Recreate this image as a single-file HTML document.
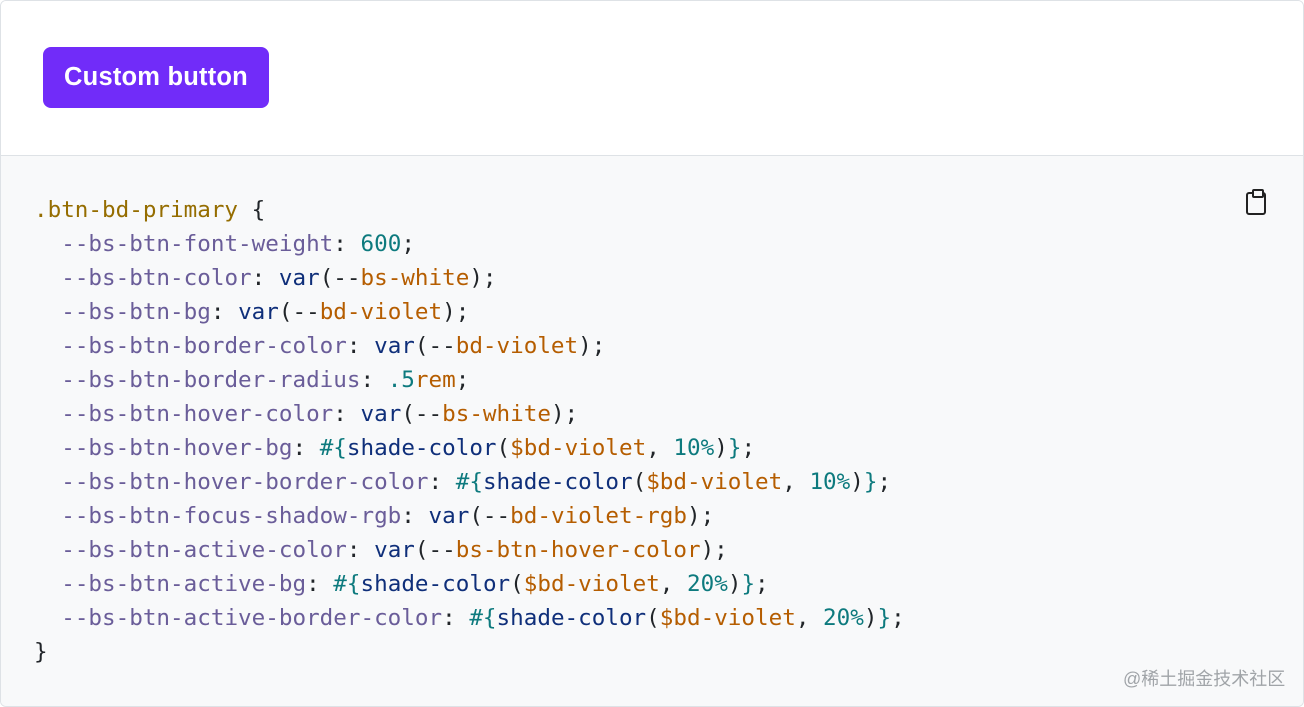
<!DOCTYPE html>
<html><head><meta charset="utf-8"><style>
html,body{margin:0;padding:0;background:#fff;}
body{width:1304px;height:707px;position:relative;overflow:hidden;font-family:"Liberation Sans",sans-serif;}
.frame{position:absolute;left:0;top:0;width:1302px;height:705px;border:1px solid #dee2e6;border-radius:6px;overflow:hidden;}
.top{position:absolute;left:0;top:0;width:100%;height:154px;background:#fff;border-bottom:1px solid #dee2e6;}
.btn{position:absolute;left:42px;top:46px;width:226px;height:61px;background:#712cf9;border-radius:8px;color:#fff;font-weight:bold;font-size:25.5px;line-height:61px;text-align:center;letter-spacing:0.2px;}
.code{position:absolute;left:0;top:155px;width:100%;height:550px;background:#f8f9fa;}
pre{position:absolute;left:33px;top:37px;margin:0;font-family:"DejaVu Sans Mono","Liberation Mono",monospace;font-size:22.6px;line-height:34px;color:#212529;}
.s{color:#956d00}.p{color:#6a5d99}.n{color:#0d7a7e}.k{color:#0f2f7a}.v{color:#b55d00}
.clip{position:absolute;left:1246px;top:192px;width:20px;height:23px;border:2px solid #222;border-radius:3px;box-sizing:border-box;}
.clip:before{content:"";position:absolute;left:4px;top:-5px;width:8px;height:5px;border:2px solid #222;border-radius:2px;background:#f8f9fa;}
.wm{position:absolute;left:1123px;top:665px;font-family:"Liberation Sans","Noto Sans CJK SC",sans-serif;font-size:18px;color:#a0a4a8;}
</style></head><body>
<div class="frame">
<div class="top"><div class="btn">Custom button</div></div>
<div class="code">
<pre><span class="s">.btn-bd-primary</span> {
  <span class="p">--bs-btn-font-weight</span>: <span class="n">600</span>;
  <span class="p">--bs-btn-color</span>: <span class="k">var</span>(--<span class="v">bs-white</span>);
  <span class="p">--bs-btn-bg</span>: <span class="k">var</span>(--<span class="v">bd-violet</span>);
  <span class="p">--bs-btn-border-color</span>: <span class="k">var</span>(--<span class="v">bd-violet</span>);
  <span class="p">--bs-btn-border-radius</span>: <span class="n">.5</span><span class="v">rem</span>;
  <span class="p">--bs-btn-hover-color</span>: <span class="k">var</span>(--<span class="v">bs-white</span>);
  <span class="p">--bs-btn-hover-bg</span>: <span class="n">#{</span><span class="k">shade-color</span>(<span class="v">$bd-violet</span>, <span class="n">10%</span>)<span class="n">}</span>;
  <span class="p">--bs-btn-hover-border-color</span>: <span class="n">#{</span><span class="k">shade-color</span>(<span class="v">$bd-violet</span>, <span class="n">10%</span>)<span class="n">}</span>;
  <span class="p">--bs-btn-focus-shadow-rgb</span>: <span class="k">var</span>(--<span class="v">bd-violet-rgb</span>);
  <span class="p">--bs-btn-active-color</span>: <span class="k">var</span>(--<span class="v">bs-btn-hover-color</span>);
  <span class="p">--bs-btn-active-bg</span>: <span class="n">#{</span><span class="k">shade-color</span>(<span class="v">$bd-violet</span>, <span class="n">20%</span>)<span class="n">}</span>;
  <span class="p">--bs-btn-active-border-color</span>: <span class="n">#{</span><span class="k">shade-color</span>(<span class="v">$bd-violet</span>, <span class="n">20%</span>)<span class="n">}</span>;
}</pre>
</div>
</div>
<div class="clip"></div>
<div class="wm">@稀土掘金技术社区</div>
</body></html>
